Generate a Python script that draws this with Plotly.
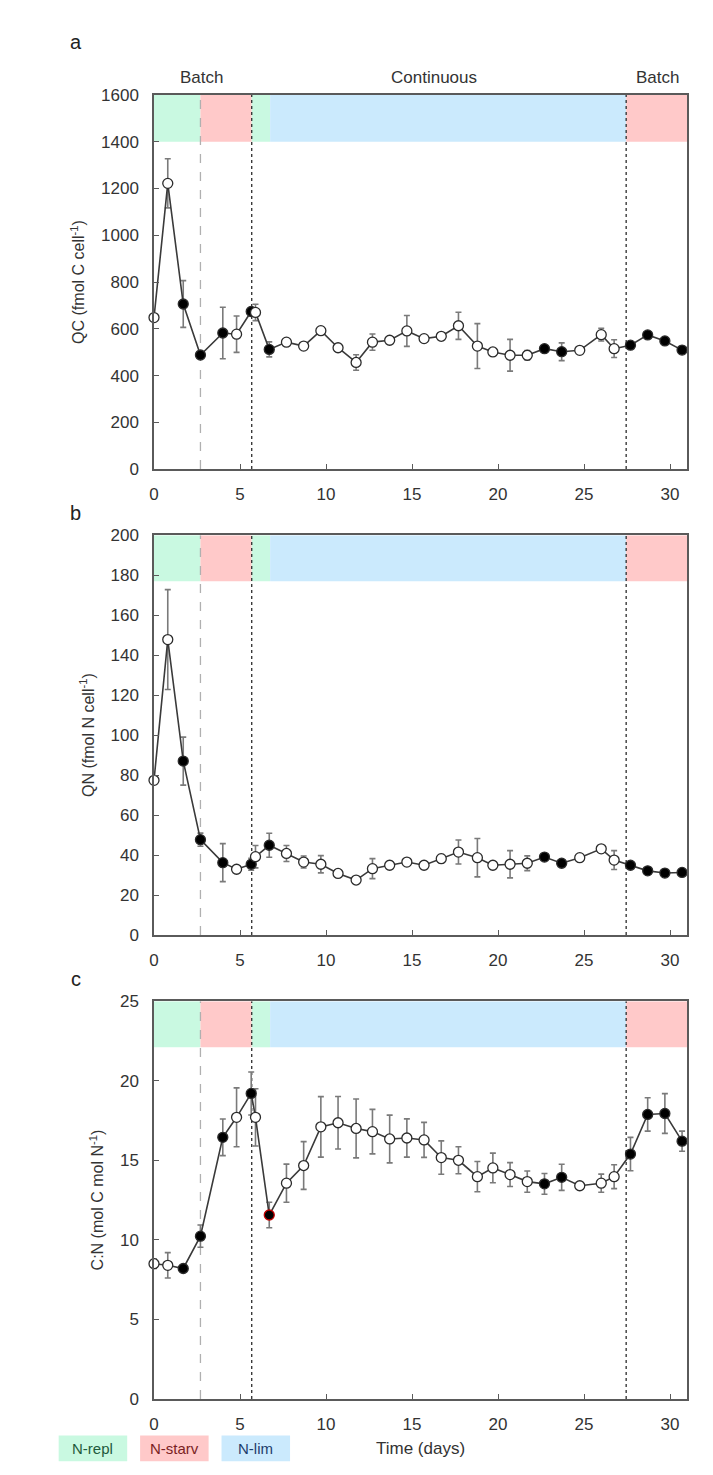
import plotly.graph_objects as go

# ---------------- data ----------------
days = [0, 0.8, 1.7, 2.7, 4.0, 4.8, 5.65, 5.9, 6.7, 7.7, 8.7, 9.7, 10.7, 11.75, 12.7, 13.7,
        14.7, 15.7, 16.7, 17.7, 18.8, 19.7, 20.7, 21.7, 22.7, 23.7, 24.75, 26.0, 26.75,
        27.7, 28.7, 29.7, 30.7]

qc = [648, 1222, 706, 488, 582, 577, 674, 670, 512, 543, 526, 592, 519, 456, 543, 551,
      591, 558, 568, 613, 526, 501, 487, 487, 515, 502, 508, 575, 515, 530, 574, 548, 509]
qc_err = [0, 105, 100, 0, 110, 78, 0, 35, 32, 0, 0, 0, 0, 33, 35, 15,
          66, 12, 0, 58, 96, 0, 68, 20, 0, 38, 0, 27, 38, 0, 0, 0, 0]

qn = [77.4, 147.8, 87, 47.7, 36.2, 32.9, 35.4, 39.2, 44.9, 40.8, 36.5, 35.4, 30.8, 27.5, 33.2, 34.9,
      36.5, 34.9, 38.2, 41.5, 38.7, 34.9, 35.4, 35.9, 39.0, 35.9, 38.7, 43.1, 37.5, 34.9, 32.1, 31.0, 31.3]
qn_err = [0, 25, 12, 3.3, 9.5, 0, 3, 5.6, 6, 4, 3, 4.3, 1.5, 0, 5, 2,
          1, 1, 2, 6, 9.6, 0, 6.8, 3.7, 0, 1, 0, 1.5, 4.7, 1.5, 0, 0, 0]

cn = [8.5, 8.4, 8.2, 10.23, 16.44, 17.7, 19.2, 17.7, 11.56, 13.56, 14.67, 17.1, 17.36, 17.0, 16.8, 16.34,
      16.4, 16.28, 15.17, 15.0, 13.97, 14.52, 14.1, 13.66, 13.52, 13.93, 13.4, 13.56, 13.97, 15.39, 17.88, 17.94, 16.2]
cn_err = [0.3, 0.8, 0.1, 0.7, 1.15, 1.85, 1.35, 1.8, 0.8, 1.2, 1.5, 1.9, 1.65, 1.85, 1.4, 1.5,
          1.2, 1.1, 1.05, 0.85, 0.95, 0.93, 0.75, 0.67, 0.65, 0.82, 0.1, 0.57, 0.75, 1.05, 1.05, 1.25, 0.63]

# 1 = filled (black) marker, 0 = open marker
filled = [0, 0, 1, 1, 1, 0, 1, 0, 1, 0, 0, 0, 0, 0, 0, 0,
          0, 0, 0, 0, 0, 0, 0, 0, 1, 1, 0, 0, 0, 1, 1, 1, 1]
red_outline_c = 8  # index of the red-rimmed point in panel c

# phase boundaries (days)
phase_edges = [0, 2.7, 5.68, 6.75, 27.45, 31]
phase_names = ["N-repl", "N-starv", "N-repl", "N-lim", "N-starv"]
phase_colors = {"N-repl": "#c9f9e1", "N-starv": "#ffc9c9", "N-lim": "#cbeafd"}
phase_text = {"N-repl": "#1f5a3c", "N-starv": "#7a1f24", "N-lim": "#1d3d6b"}
dashed_day = 2.7
dotted_days = [5.68, 27.45]

panels = [
    dict(y=qc, err=qc_err, ymax=1600, dtick=200, band=1400, title="QC (fmol C cell<sup>-1</sup>)", letter="a"),
    dict(y=qn, err=qn_err, ymax=200, dtick=20, band=177, title="QN (fmol N cell<sup>-1</sup>)", letter="b"),
    dict(y=cn, err=cn_err, ymax=25, dtick=5, band=22.1, title="C:N (mol C mol N<sup>-1</sup>)", letter="c"),
]

# ---------------- layout geometry (px) ----------------
W, H = 713, 1475
x0px, x1px = 142, 679
ypx = [(79, 458), (525, 930), (997, 1400)]
letter_y = [25, 502, 975]

FONT = "Arial, Liberation Sans, sans-serif"
AX = "#5a5a5a"
TXT = "#333333"

fig = go.Figure()
shapes = []
annotations = []
layout = dict(
    width=W, height=H, margin=dict(l=0, r=0, t=0, b=0),
    paper_bgcolor="white", plot_bgcolor="white", showlegend=False,
    font=dict(family=FONT, size=16, color=TXT),
)

for i, p in enumerate(panels):
    n = "" if i == 0 else str(i + 1)
    xa, ya = "x" + n, "y" + n
    top, bot = ypx[i]
    fill = ["black" if f else "white" for f in filled]
    lc = ["#2b2b2b"] * len(days)
    if i == 2:
        lc[red_outline_c] = "#c00000"
    fig.add_trace(go.Scatter(
        x=days, y=p["y"], xaxis=xa, yaxis=ya, mode="lines+markers",
        line=dict(color="#3a3a3a", width=1.6),
        marker=dict(symbol="circle", size=10, color=fill, line=dict(color=lc, width=1.3)),
        error_y=dict(type="data", array=p["err"], visible=True, color="#7a7a7a", thickness=1.6, width=3),
        cliponaxis=False,
    ))
    layout["xaxis" + n] = dict(
        domain=[x0px / W, x1px / W], range=[0, 31], anchor=ya, dtick=5, tick0=0,
        showgrid=False, zeroline=False, showline=True, linecolor=AX, linewidth=1.5, mirror=True,
        ticks="inside", ticklen=5, tickcolor=AX, tickwidth=1.2, ticklabelstandoff=9,
        tickfont=dict(size=17, color=TXT, family=FONT),
    )
    layout["yaxis" + n] = dict(
        domain=[1 - bot / H, 1 - top / H], range=[0, p["ymax"]], anchor=xa, dtick=p["dtick"],
        showgrid=False, zeroline=False, showline=True, linecolor=AX, linewidth=1.5, mirror=True,
        ticks="inside", ticklen=5, tickcolor=AX, tickwidth=1.2, ticklabelstandoff=10,
        tickfont=dict(size=17, color=TXT, family=FONT),
        title=dict(text=p["title"], font=dict(size=16, color=TXT, family=FONT), standoff=12),
    )
    # phase bands
    for k, name in enumerate(phase_names):
        shapes.append(dict(type="rect", xref=xa, yref=ya, x0=phase_edges[k], x1=phase_edges[k + 1],
                           y0=p["band"], y1=p["ymax"], fillcolor=phase_colors[name],
                           line=dict(width=0), layer="below"))
    # vertical lines
    shapes.append(dict(type="line", xref=xa, yref=ya, x0=dashed_day, x1=dashed_day, y0=0, y1=p["ymax"],
                       line=dict(color="#b0b0b0", width=1.3, dash="dash"), layer="below"))
    for d in dotted_days:
        shapes.append(dict(type="line", xref=xa, yref=ya, x0=d, x1=d, y0=0, y1=p["ymax"],
                           line=dict(color="#3a3a3a", width=1.4, dash="dot"), layer="below"))
    # panel letter
    annotations.append(dict(text=p["letter"], xref="paper", yref="paper", x=63 / W,
                            y=1 - letter_y[i] / H,
                            showarrow=False, font=dict(size=20, color="#222222", family=FONT),
                            xanchor="center", yanchor="middle"))

# mode labels above panel a
for txt, d in [("Batch", 2.77), ("Continuous", 16.3), ("Batch", 29.3)]:
    annotations.append(dict(text=txt, xref="x", yref="paper", x=d, y=1 - 61 / H, showarrow=False,
                            font=dict(size=17, color=TXT, family=FONT),
                            xanchor="center", yanchor="middle"))

# x-axis title (under panel c only)
annotations.append(dict(text="Time (days)", xref="paper", yref="paper", x=410 / W, y=1 - 1450 / H,
                        showarrow=False, font=dict(size=17, color=TXT, family=FONT),
                        xanchor="center", yanchor="middle"))

# legend boxes
legend_boxes = [("N-repl", 46, 115), ("N-starv", 128, 197), ("N-lim", 210, 279)]
for name, bx0, bx1 in legend_boxes:
    shapes.append(dict(type="rect", xref="paper", yref="paper", x0=bx0 / W, x1=bx1 / W,
                       y0=1 - 1463 / H, y1=1 - 1437 / H, fillcolor=phase_colors[name], line=dict(width=0)))
    annotations.append(dict(text=name, xref="paper", yref="paper", x=(bx0 + bx1) / 2 / W, y=1 - 1450 / H,
                            showarrow=False, font=dict(size=15, color=phase_text[name], family=FONT),
                            xanchor="center", yanchor="middle"))

layout["shapes"] = shapes
layout["annotations"] = annotations
fig.update_layout(**layout)
fig.write_html("out.html")
